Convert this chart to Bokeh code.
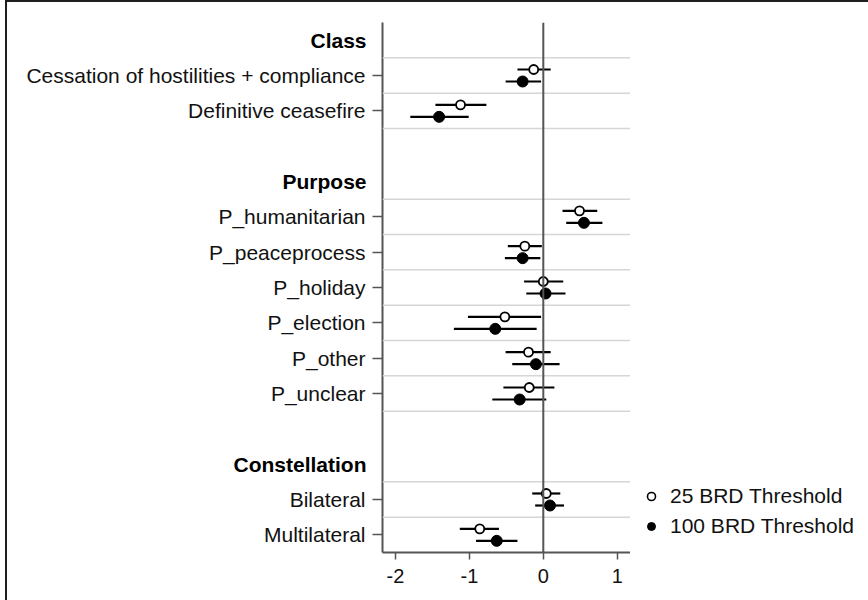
from bokeh.plotting import figure
from bokeh.models import (Range1d, FixedTicker, Span, Legend, LegendItem,
                          ColumnDataSource, Div)
from bokeh.layouts import row
from bokeh.core.properties import value
from bokeh.embed import file_html
from bokeh.resources import INLINE

# ---- data ----
groups = ["Class", "Purpose", "Constellation"]
group_items = [
    ["Cessation of hostilities + compliance", "Definitive ceasefire"],
    ["P_humanitarian", "P_peaceprocess", "P_holiday", "P_election", "P_other", "P_unclear"],
    ["Bilateral", "Multilateral"],
]
est25 = [-0.13, -1.12, 0.49, -0.25, 0.00, -0.52, -0.20, -0.19, 0.04, -0.86]
lo25 = [-0.35, -1.46, 0.26, -0.48, -0.26, -1.02, -0.51, -0.54, -0.15, -1.13]
hi25 = [0.10, -0.77, 0.73, -0.02, 0.27, -0.03, 0.10, 0.15, 0.23, -0.60]
est100 = [-0.28, -1.41, 0.55, -0.28, 0.03, -0.65, -0.10, -0.32, 0.09, -0.63]
lo100 = [-0.51, -1.80, 0.31, -0.52, -0.23, -1.21, -0.42, -0.69, -0.11, -0.91]
hi100 = [-0.03, -1.01, 0.80, -0.04, 0.30, -0.09, 0.22, 0.04, 0.28, -0.35]
x_ticks = [-2, -1, 0, 1]
x_tick_labels = ["-2", "-1", "0", "1"]
series_names = ["25 BRD Threshold", "100 BRD Threshold"]

# ---- row layout derived from groups ----
header_rows = []
item_rows = []
item_labels = []
boundaries = []
r = 0
for g, items in zip(groups, group_items):
    header_rows.append(r)
    boundaries.append(r + 0.5)
    r += 1
    for it in items:
        item_rows.append(r)
        item_labels.append(it)
        boundaries.append(r + 0.5)
        r += 1
    r += 1  # blank row
last_row = item_rows[-1]
boundaries = [b for b in boundaries if b < last_row + 0.5]

FONT = "Liberation Sans"
OFF = 0.17
H = 598
TOP, BOT = 22, 46

yr = Range1d(last_row + 0.5, -0.5)

# ---- left: category labels ----
fL = figure(width=368, height=H, x_range=Range1d(0, 1), y_range=yr,
            output_backend="svg", toolbar_location=None,
            x_axis_location=None, y_axis_location=None,
            min_border_left=0, min_border_right=0, min_border_top=TOP, min_border_bottom=BOT)
fL.outline_line_color = None
fL.xgrid.visible = False
fL.ygrid.visible = False
fL.text(x=[fL.x_range.end] * len(item_rows), y=item_rows, text=item_labels,
        x_offset=-3, text_align="right", text_baseline="middle",
        text_font=value(FONT), text_font_size=value("21px"), text_color="#111111")
fL.text(x=[fL.x_range.end] * len(header_rows), y=header_rows, text=groups,
        x_offset=-2, text_align="right", text_baseline="middle",
        text_font=value(FONT), text_font_size=value("21px"), text_font_style="bold",
        text_color="#000000")

# ---- main plot ----
p = figure(width=262, height=H,
           x_range=Range1d(-2.176, 1.18), y_range=yr,
           output_backend="svg", toolbar_location=None,
           min_border_left=14, min_border_right=0, min_border_top=TOP, min_border_bottom=BOT)
p.outline_line_color = None
p.xgrid.visible = False
p.ygrid.visible = False

for b in boundaries:
    p.add_layout(Span(location=b, dimension="width", line_color="#d6d6d6", line_width=1.5))
p.add_layout(Span(location=0, dimension="height", line_color="#555555", line_width=2))

p.yaxis.ticker = FixedTicker(ticks=item_rows)
p.yaxis.major_label_overrides = {rr: "" for rr in item_rows}
p.yaxis.minor_tick_line_color = None
p.yaxis.major_tick_out = 10
p.yaxis.major_tick_in = 0
p.yaxis.major_label_standoff = 0
p.yaxis.axis_line_color = "#555555"
p.yaxis.axis_line_width = 2
p.yaxis.major_tick_line_color = "#555555"
p.yaxis.major_tick_line_width = 1.5

p.xaxis.ticker = FixedTicker(ticks=x_ticks)
p.xaxis.major_label_overrides = {t: s for t, s in zip(x_ticks, x_tick_labels)}
p.xaxis.minor_tick_line_color = None
p.xaxis.major_tick_out = 7
p.xaxis.major_tick_in = 0
p.xaxis.major_label_standoff = 9
p.xaxis.axis_line_color = "#555555"
p.xaxis.axis_line_width = 2
p.xaxis.major_tick_line_color = "#555555"
p.xaxis.major_tick_line_width = 1.5
p.xaxis.major_label_text_font = FONT
p.xaxis.major_label_text_font_size = "20px"
p.xaxis.major_label_text_color = "#111111"

y25 = [rr - OFF for rr in item_rows]
y100 = [rr + OFF for rr in item_rows]
s25 = ColumnDataSource(dict(y=y25, est=est25, lo=lo25, hi=hi25))
s100 = ColumnDataSource(dict(y=y100, est=est100, lo=lo100, hi=hi100))

p.segment(x0="lo", y0="y", x1="hi", y1="y", source=s25, line_color="black", line_width=2.2)
p.segment(x0="lo", y0="y", x1="hi", y1="y", source=s100, line_color="black", line_width=2.2)
p.scatter(x="est", y="y", source=s25, marker="circle", size=9,
          fill_color="white", line_color="black", line_width=1.8)
p.scatter(x="est", y="y", source=s100, marker="circle", size=11,
          fill_color="black", line_color="black", line_width=1)

# ---- right: legend (key glyphs only, no data drawn) ----
fR = figure(width=236, height=H, x_range=Range1d(0, 1), y_range=Range1d(0, 1),
            output_backend="svg", toolbar_location=None,
            x_axis_location=None, y_axis_location=None,
            min_border_left=0, min_border_right=0, min_border_top=TOP, min_border_bottom=BOT)
fR.outline_line_color = None
fR.xgrid.visible = False
fR.ygrid.visible = False
nan = float("nan")
g25 = fR.scatter(x=[nan], y=[nan], marker="circle", size=7,
                 fill_color="white", line_color="black", line_width=1.6)
g100 = fR.scatter(x=[nan], y=[nan], marker="circle", size=10,
                  fill_color="black", line_color="black", line_width=1)
legend = Legend(items=[LegendItem(label=series_names[0], renderers=[g25]),
                       LegendItem(label=series_names[1], renderers=[g100])],
                location="bottom_left", orientation="vertical",
                border_line_color=None, background_fill_alpha=0,
                label_text_font=FONT, label_text_font_size="21px", label_text_color="#111111",
                glyph_width=20, glyph_height=30, label_height=30, spacing=0,
                padding=0, margin=11, label_standoff=9)
fR.add_layout(legend)

frame_lines = Div(text='<div style="position:fixed;left:5px;top:0px;width:870px;height:2px;background:#1e1e1e;"></div>'
                       '<div style="position:fixed;left:5px;top:0px;width:2px;height:600px;background:#1e1e1e;"></div>',
                  width=1, height=1)

layout = row(fL, p, fR, frame_lines)
open("out.html", "w").write(file_html(layout, INLINE))
